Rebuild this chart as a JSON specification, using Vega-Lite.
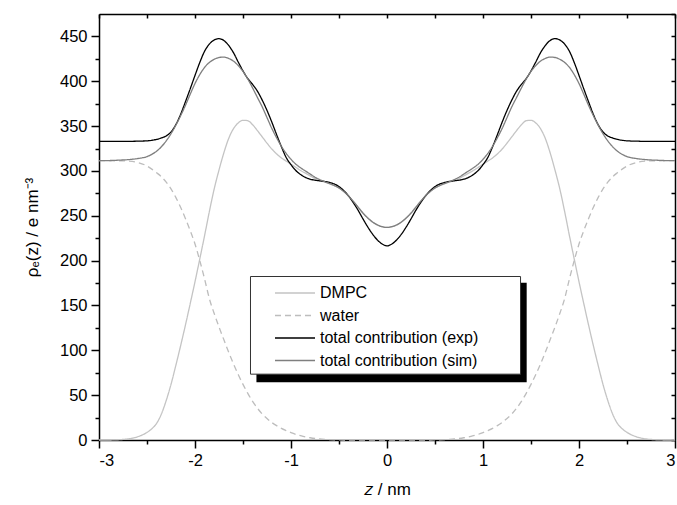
{
  "$schema": "https://vega.github.io/schema/vega-lite/v6.json",
  "width": 576,
  "height": 426,
  "autosize": "none",
  "padding": {"left": 99, "top": 14, "right": 2, "bottom": 65},
  "background": "white",
  "config": {
    "view": {"stroke": null},
    "axis": {
      "domainColor": "black", "domainWidth": 1.5, "tickColor": "black", "tickWidth": 1.5,
      "labelColor": "black", "labelFont": "Liberation Sans", "labelFontSize": 16.5,
      "titleFont": "Liberation Sans", "titleFontSize": 17, "titleFontWeight": "normal", "titleColor": "black",
      "grid": false
    },
    "legend": {
      "orient": "none", "legendX": 173, "legendY": 271, "title": null,
      "symbolType": "M-4,0H4", "symbolSize": 100, "symbolStrokeWidth": 1.3,
      "symbolOffset": 15, "labelOffset": 17, "labelFont": "Liberation Sans", "labelFontSize": 16,
      "labelColor": "black", "rowPadding": 6.5, "padding": 0
    }
  },
  "resolve": {"axis": {"x": "independent", "y": "independent"}},
  "layer": [
    {
      "data": {"values": [{"x1": -1.36, "x2": 1.455, "y1": 64.5, "y2": 175.3}]},
      "mark": {"type": "rect", "fill": "black"},
      "encoding": {
        "x": {"field": "x1", "type": "quantitative", "scale": {"domain": [-3, 3], "nice": false},
              "axis": {"orient": "bottom", "values": [-2.5, -1.5, -0.5, 0.5, 1.5, 2.5], "tickSize": 4, "labels": false, "domain": false, "title": null}},
        "x2": {"field": "x2"},
        "y": {"field": "y1", "type": "quantitative", "scale": {"domain": [0, 475], "nice": false},
              "axis": {"orient": "left", "values": [25, 75, 125, 175, 225, 275, 325, 375, 425], "tickSize": 4, "labels": false, "domain": false, "title": null}},
        "y2": {"field": "y2"}
      }
    },
    {
      "data": {"values": [{"x1": -1.422, "x2": 1.391, "y1": 73.4, "y2": 182.3}]},
      "mark": {"type": "rect", "fill": "white", "stroke": "#333333", "strokeWidth": 1},
      "encoding": {
        "x": {"field": "x1", "type": "quantitative", "scale": {"domain": [-3, 3], "nice": false},
              "axis": {"orient": "top", "values": [-3, -2.5, -2, -1.5, -1, -0.5, 0, 0.5, 1, 1.5, 2, 2.5, 3], "tickSize": -4, "labels": false, "title": null}},
        "x2": {"field": "x2"},
        "y": {"field": "y1", "type": "quantitative", "scale": {"domain": [0, 475], "nice": false},
              "axis": {"orient": "right", "values": [0, 25, 50, 75, 100, 125, 150, 175, 200, 225, 250, 275, 300, 325, 350, 375, 400, 425, 450, 475], "tickSize": -4, "labels": false, "title": null}},
        "y2": {"field": "y2"}
      }
    },
    {
      "data": {"values": [
        {"x": -3, "dmpc": 0, "water": 311.5, "exp": 333, "sim": 311.5},
        {"x": -2.9, "dmpc": 0, "water": 311.5, "exp": 333, "sim": 311.6},
        {"x": -2.8, "dmpc": 0.3, "water": 311.3, "exp": 333, "sim": 312},
        {"x": -2.7, "dmpc": 1.2, "water": 311, "exp": 333, "sim": 312.6},
        {"x": -2.6, "dmpc": 3.5, "water": 309.5, "exp": 333.2, "sim": 313.8},
        {"x": -2.5, "dmpc": 8.5, "water": 305.5, "exp": 333.6, "sim": 316},
        {"x": -2.45, "dmpc": 12.5, "water": 302, "exp": 334.2, "sim": 318.5},
        {"x": -2.4, "dmpc": 18.5, "water": 298, "exp": 335.2, "sim": 322},
        {"x": -2.35, "dmpc": 29, "water": 293.5, "exp": 336.8, "sim": 327},
        {"x": -2.3, "dmpc": 44, "water": 287.5, "exp": 339, "sim": 333.5},
        {"x": -2.25, "dmpc": 62, "water": 280, "exp": 343.5, "sim": 341.5},
        {"x": -2.2, "dmpc": 83, "water": 270.5, "exp": 351.5, "sim": 351},
        {"x": -2.15, "dmpc": 105, "water": 259.5, "exp": 363, "sim": 361.5},
        {"x": -2.1, "dmpc": 128, "water": 247, "exp": 377, "sim": 373},
        {"x": -2.05, "dmpc": 152, "water": 233.5, "exp": 391.5, "sim": 385.5},
        {"x": -2, "dmpc": 176.5, "water": 218.5, "exp": 406.5, "sim": 397.5},
        {"x": -1.95, "dmpc": 202, "water": 200, "exp": 421, "sim": 407.5},
        {"x": -1.9, "dmpc": 228, "water": 179.5, "exp": 433.5, "sim": 415.5},
        {"x": -1.85, "dmpc": 255, "water": 157.5, "exp": 441.5, "sim": 421},
        {"x": -1.8, "dmpc": 280, "water": 141, "exp": 446, "sim": 424.5},
        {"x": -1.75, "dmpc": 301, "water": 126, "exp": 447.5, "sim": 426.5},
        {"x": -1.7, "dmpc": 320, "water": 112, "exp": 445.5, "sim": 427},
        {"x": -1.65, "dmpc": 336, "water": 98, "exp": 440, "sim": 425.5},
        {"x": -1.6, "dmpc": 347, "water": 85, "exp": 432, "sim": 422.5},
        {"x": -1.55, "dmpc": 353.5, "water": 73, "exp": 421.5, "sim": 417.5},
        {"x": -1.5, "dmpc": 356.5, "water": 62, "exp": 411.5, "sim": 411},
        {"x": -1.45, "dmpc": 356, "water": 52, "exp": 403, "sim": 402.5},
        {"x": -1.4, "dmpc": 351.5, "water": 43, "exp": 396.5, "sim": 392.5},
        {"x": -1.35, "dmpc": 345, "water": 35.5, "exp": 389, "sim": 382},
        {"x": -1.3, "dmpc": 338, "water": 29, "exp": 379, "sim": 371.5},
        {"x": -1.25, "dmpc": 331, "water": 24, "exp": 367.5, "sim": 359.5},
        {"x": -1.2, "dmpc": 324.5, "water": 19.5, "exp": 354.5, "sim": 347.5},
        {"x": -1.15, "dmpc": 319, "water": 16, "exp": 340.5, "sim": 337},
        {"x": -1.1, "dmpc": 314.5, "water": 13, "exp": 327, "sim": 327.5},
        {"x": -1.05, "dmpc": 311, "water": 10.5, "exp": 315, "sim": 319.5},
        {"x": -1, "dmpc": 307.5, "water": 8.2, "exp": 307, "sim": 313},
        {"x": -0.95, "dmpc": 304, "water": 6.3, "exp": 300.5, "sim": 307.5},
        {"x": -0.9, "dmpc": 300.5, "water": 4.8, "exp": 296, "sim": 303.5},
        {"x": -0.85, "dmpc": 297.5, "water": 3.5, "exp": 292.8, "sim": 300},
        {"x": -0.8, "dmpc": 294.5, "water": 2.5, "exp": 290.8, "sim": 296.5},
        {"x": -0.75, "dmpc": 291.5, "water": 1.7, "exp": 289.7, "sim": 293},
        {"x": -0.7, "dmpc": 289.3, "water": 1.1, "exp": 289, "sim": 290.3},
        {"x": -0.65, "dmpc": 287.6, "water": 0.7, "exp": 288.3, "sim": 288},
        {"x": -0.6, "dmpc": 285.7, "water": 0.4, "exp": 287.2, "sim": 286},
        {"x": -0.55, "dmpc": 283.6, "water": 0.2, "exp": 285.5, "sim": 283.8},
        {"x": -0.5, "dmpc": 281, "water": 0.1, "exp": 282.5, "sim": 281},
        {"x": -0.45, "dmpc": 277, "water": 0, "exp": 278, "sim": 277},
        {"x": -0.4, "dmpc": 272, "water": 0, "exp": 272, "sim": 272},
        {"x": -0.35, "dmpc": 266, "water": 0, "exp": 264.5, "sim": 266},
        {"x": -0.3, "dmpc": 259.5, "water": 0, "exp": 256, "sim": 259.5},
        {"x": -0.25, "dmpc": 253, "water": 0, "exp": 246.5, "sim": 253},
        {"x": -0.2, "dmpc": 247.5, "water": 0, "exp": 237.5, "sim": 247.5},
        {"x": -0.15, "dmpc": 243, "water": 0, "exp": 229.5, "sim": 243},
        {"x": -0.1, "dmpc": 239.8, "water": 0, "exp": 223, "sim": 239.8},
        {"x": -0.05, "dmpc": 237.8, "water": 0, "exp": 218.5, "sim": 237.8},
        {"x": 0, "dmpc": 237, "water": 0, "exp": 216.5, "sim": 237},
        {"x": 0.05, "dmpc": 237.8, "water": 0, "exp": 218.5, "sim": 237.8},
        {"x": 0.1, "dmpc": 239.8, "water": 0, "exp": 223, "sim": 239.8},
        {"x": 0.15, "dmpc": 243, "water": 0, "exp": 229.5, "sim": 243},
        {"x": 0.2, "dmpc": 247.5, "water": 0, "exp": 237.5, "sim": 247.5},
        {"x": 0.25, "dmpc": 253, "water": 0, "exp": 246.5, "sim": 253},
        {"x": 0.3, "dmpc": 259.5, "water": 0, "exp": 256, "sim": 259.5},
        {"x": 0.35, "dmpc": 266, "water": 0, "exp": 264.5, "sim": 266},
        {"x": 0.4, "dmpc": 272, "water": 0, "exp": 272, "sim": 272},
        {"x": 0.45, "dmpc": 277, "water": 0, "exp": 278, "sim": 277},
        {"x": 0.5, "dmpc": 281, "water": 0.1, "exp": 282.5, "sim": 281},
        {"x": 0.55, "dmpc": 283.6, "water": 0.2, "exp": 285.5, "sim": 283.8},
        {"x": 0.6, "dmpc": 285.7, "water": 0.4, "exp": 287.2, "sim": 286},
        {"x": 0.65, "dmpc": 287.6, "water": 0.7, "exp": 288.3, "sim": 288},
        {"x": 0.7, "dmpc": 289.3, "water": 1.1, "exp": 289, "sim": 290.3},
        {"x": 0.75, "dmpc": 291.5, "water": 1.7, "exp": 289.7, "sim": 293},
        {"x": 0.8, "dmpc": 294.5, "water": 2.5, "exp": 290.8, "sim": 296.5},
        {"x": 0.85, "dmpc": 297.5, "water": 3.5, "exp": 292.8, "sim": 300},
        {"x": 0.9, "dmpc": 300.5, "water": 4.8, "exp": 296, "sim": 303.5},
        {"x": 0.95, "dmpc": 304, "water": 6.3, "exp": 300.5, "sim": 307.5},
        {"x": 1, "dmpc": 307.5, "water": 8.2, "exp": 307, "sim": 313},
        {"x": 1.05, "dmpc": 311, "water": 10.5, "exp": 315, "sim": 319.5},
        {"x": 1.1, "dmpc": 314.5, "water": 13, "exp": 327, "sim": 327.5},
        {"x": 1.15, "dmpc": 319, "water": 16, "exp": 340.5, "sim": 337},
        {"x": 1.2, "dmpc": 324.5, "water": 19.5, "exp": 354.5, "sim": 347.5},
        {"x": 1.25, "dmpc": 331, "water": 24, "exp": 367.5, "sim": 359.5},
        {"x": 1.3, "dmpc": 338, "water": 29, "exp": 379, "sim": 371.5},
        {"x": 1.35, "dmpc": 345, "water": 35.5, "exp": 389, "sim": 382},
        {"x": 1.4, "dmpc": 351.5, "water": 43, "exp": 396.5, "sim": 392.5},
        {"x": 1.45, "dmpc": 356, "water": 52, "exp": 403, "sim": 402.5},
        {"x": 1.5, "dmpc": 356.5, "water": 62, "exp": 411.5, "sim": 411},
        {"x": 1.55, "dmpc": 353.5, "water": 73, "exp": 421.5, "sim": 417.5},
        {"x": 1.6, "dmpc": 347, "water": 85, "exp": 432, "sim": 422.5},
        {"x": 1.65, "dmpc": 336, "water": 98, "exp": 440, "sim": 425.5},
        {"x": 1.7, "dmpc": 320, "water": 112, "exp": 445.5, "sim": 427},
        {"x": 1.75, "dmpc": 301, "water": 126, "exp": 447.5, "sim": 426.5},
        {"x": 1.8, "dmpc": 280, "water": 141, "exp": 446, "sim": 424.5},
        {"x": 1.85, "dmpc": 255, "water": 157.5, "exp": 441.5, "sim": 421},
        {"x": 1.9, "dmpc": 228, "water": 179.5, "exp": 433.5, "sim": 415.5},
        {"x": 1.95, "dmpc": 202, "water": 200, "exp": 421, "sim": 407.5},
        {"x": 2, "dmpc": 176.5, "water": 218.5, "exp": 406.5, "sim": 397.5},
        {"x": 2.05, "dmpc": 152, "water": 233.5, "exp": 391.5, "sim": 385.5},
        {"x": 2.1, "dmpc": 128, "water": 247, "exp": 377, "sim": 373},
        {"x": 2.15, "dmpc": 105, "water": 259.5, "exp": 363, "sim": 361.5},
        {"x": 2.2, "dmpc": 83, "water": 270.5, "exp": 351.5, "sim": 351},
        {"x": 2.25, "dmpc": 62, "water": 280, "exp": 343.5, "sim": 341.5},
        {"x": 2.3, "dmpc": 44, "water": 287.5, "exp": 339, "sim": 333.5},
        {"x": 2.35, "dmpc": 29, "water": 293.5, "exp": 336.8, "sim": 327},
        {"x": 2.4, "dmpc": 18.5, "water": 298, "exp": 335.2, "sim": 322},
        {"x": 2.45, "dmpc": 12.5, "water": 302, "exp": 334.2, "sim": 318.5},
        {"x": 2.5, "dmpc": 8.5, "water": 305.5, "exp": 333.6, "sim": 316},
        {"x": 2.6, "dmpc": 3.5, "water": 309.5, "exp": 333.2, "sim": 313.8},
        {"x": 2.7, "dmpc": 1.2, "water": 311, "exp": 333, "sim": 312.6},
        {"x": 2.8, "dmpc": 0.3, "water": 311.3, "exp": 333, "sim": 312},
        {"x": 2.9, "dmpc": 0, "water": 311.5, "exp": 333, "sim": 311.6},
        {"x": 3, "dmpc": 0, "water": 311.5, "exp": 333, "sim": 311.5}
      ]},
      "transform": [{"fold": ["dmpc", "water", "exp", "sim"], "as": ["series", "v"]}],
      "mark": {"type": "line", "interpolate": "monotone", "strokeWidth": 1.3},
      "encoding": {
        "x": {"field": "x", "type": "quantitative", "scale": {"domain": [-3, 3], "nice": false},
              "axis": {"orient": "bottom", "values": [-3, -2, -1, 0, 1, 2, 3], "tickSize": 8, "labelPadding": 4, "labelExpr": "'' + datum.value", "title": "𝑧 / nm", "titlePadding": 13}},
        "y": {"field": "v", "type": "quantitative", "scale": {"domain": [0, 475], "nice": false},
              "axis": {"orient": "left", "values": [0, 50, 100, 150, 200, 250, 300, 350, 400, 450], "tickSize": 8, "labelPadding": 4, "title": "ρₑ(z) / e nm⁻³", "titlePadding": 18}},
        "color": {"field": "series", "type": "nominal",
                  "scale": {"domain": ["dmpc", "water", "exp", "sim"], "range": ["#c4c4c4", "#bdbdbd", "#000000", "#7f7f7f"]},
                  "legend": {"labelExpr": "datum.value == 'dmpc' ? 'DMPC' : datum.value == 'water' ? 'water' : datum.value == 'exp' ? 'total contribution (exp)' : 'total contribution (sim)'"}},
        "strokeDash": {"field": "series", "type": "nominal",
                  "scale": {"domain": ["dmpc", "water", "exp", "sim"], "range": [[1, 0], [6, 4], [1, 0], [1, 0]]},
                  "legend": {"labelExpr": "datum.value == 'dmpc' ? 'DMPC' : datum.value == 'water' ? 'water' : datum.value == 'exp' ? 'total contribution (exp)' : 'total contribution (sim)'"}}
      }
    }
  ]
}
